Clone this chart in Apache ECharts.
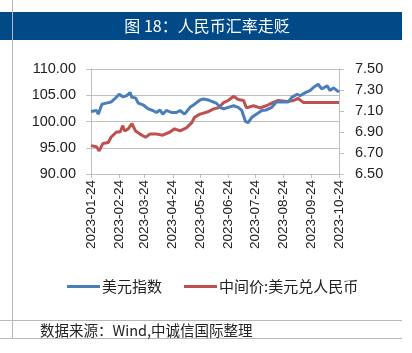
<!DOCTYPE html>
<html>
<head>
<meta charset="utf-8"/>
<title>人民币汇率走贬</title>
<script src="https://cdn.jsdelivr.net/npm/echarts@6/dist/echarts.min.js"></script>
<style>
html,body{margin:0;padding:0;background:#fff;}
#main{width:412px;height:353px;}
</style>
</head>
<body>
<div id="main"></div>
<script>
// 数据：美元指数（左轴）
var usdDates = ['2023-01-24','2023-01-30','2023-02-01','2023-02-05','2023-02-10','2023-02-15','2023-02-19','2023-02-24',
  '2023-02-28','2023-03-04','2023-03-08','2023-03-10','2023-03-14','2023-03-17','2023-03-23','2023-03-28',
  '2023-04-02','2023-04-06','2023-04-10','2023-04-13','2023-04-17','2023-04-23','2023-04-28','2023-05-02',
  '2023-05-07','2023-05-13','2023-05-18','2023-05-24','2023-05-28','2023-06-02','2023-06-08','2023-06-11',
  '2023-06-15','2023-06-19','2023-06-24','2023-06-30','2023-07-05','2023-07-09','2023-07-13','2023-07-16',
  '2023-07-20','2023-07-25','2023-07-31','2023-08-05','2023-08-11','2023-08-16','2023-08-23','2023-08-29',
  '2023-09-02','2023-09-08','2023-09-11','2023-09-17','2023-09-22','2023-09-26','2023-10-01','2023-10-05',
  '2023-10-11','2023-10-14','2023-10-18','2023-10-24'];
var usdIndex = [101.9,102.1,101.4,103.3,103.5,103.7,104.3,105.2,
  104.7,104.9,105.5,104.6,104.5,103.5,103.1,102.4,
  102.1,101.7,102.2,101.4,102.1,101.7,101.7,102.1,
  101.4,102.7,103.3,104.1,104.3,104.1,103.7,103.5,
  102.7,102.4,102.7,103.0,102.7,102.1,100.0,99.8,
  100.8,101.4,102.1,102.2,102.7,103.7,103.7,103.7,
  104.6,105.2,104.9,105.5,105.9,106.5,107.1,106.2,
  106.8,105.9,106.4,105.6];

// 数据：中间价:美元兑人民币（右轴）
var cnyDates = ['2023-01-24','2023-01-30','2023-02-02','2023-02-06','2023-02-12','2023-02-15','2023-02-21','2023-02-25',
  '2023-02-28','2023-03-02','2023-03-06','2023-03-10','2023-03-14','2023-03-19','2023-03-25','2023-03-30',
  '2023-04-06','2023-04-13','2023-04-21','2023-04-26','2023-05-02','2023-05-09','2023-05-15','2023-05-18',
  '2023-05-24','2023-06-01','2023-06-08','2023-06-13','2023-06-19','2023-06-24','2023-06-30','2023-07-05',
  '2023-07-11','2023-07-14','2023-07-22','2023-07-29','2023-08-05','2023-08-12','2023-08-18','2023-08-28',
  '2023-09-04','2023-09-09','2023-09-15','2023-09-22','2023-09-30','2023-10-24'];
var cnyMid = [6.77,6.76,6.72,6.79,6.80,6.85,6.90,6.90,
  6.96,6.91,6.93,6.98,6.91,6.88,6.85,6.88,
  6.88,6.87,6.90,6.93,6.91,6.94,6.99,7.04,
  7.07,7.09,7.12,7.13,7.18,7.20,7.24,7.21,
  7.20,7.13,7.15,7.13,7.15,7.18,7.20,7.19,
  7.20,7.22,7.18,7.18,7.18,7.18];

var startDate = '2023-01-24', endDate = '2023-10-24';

// 逐日类目
function buildDays(s, e) {
  var out = [];
  var d = new Date(s + 'T00:00:00Z'), end = new Date(e + 'T00:00:00Z');
  while (d <= end) {
    out.push(d.toISOString().slice(0, 10));
    d.setUTCDate(d.getUTCDate() + 1);
  }
  return out;
}
var days = buildDays(startDate, endDate);

function pairs(ds, vs) {
  var r = [];
  for (var i = 0; i < ds.length; i++) r.push([ds[i], vs[i]]);
  return r;
}
function isMonthTick(idx, val) { return val.slice(8) === '24'; }

var font = '"Noto Sans CJK SC", "Noto Sans", sans-serif';
var numFont = '"Liberation Sans", sans-serif';
var chart = echarts.init(document.getElementById('main'));
chart.setOption({
  animation: false,
  textStyle: {fontFamily: font},
  graphic: [
    {type: 'rect', shape: {x: 0, y: 12, width: 402, height: 28}, style: {fill: '#024a87'}, z: 0},
    {type: 'text', x: 207, y: 26, style: {text: '图 18：人民币汇率走贬', fill: '#fff', font: '16px ' + font, align: 'center', verticalAlign: 'middle'}, z: 2},
    {type: 'line', shape: {x1: 12.5, y1: 0, x2: 12.5, y2: 338}, style: {stroke: '#b8b8b8', lineWidth: 1}, z: 1},
    {type: 'line', shape: {x1: 0, y1: 320.5, x2: 402, y2: 320.5}, style: {stroke: '#b8b8b8', lineWidth: 1}},
    {type: 'line', shape: {x1: 0, y1: 338.5, x2: 402, y2: 338.5}, style: {stroke: '#b8b8b8', lineWidth: 1}},
    {type: 'text', x: 40, y: 330, style: {text: '数据来源：Wind,中诚信国际整理', fill: '#222', font: '14.5px ' + font, verticalAlign: 'middle'}}
  ],
  legend: {
    top: 274, left: 62,
    itemWidth: 33, itemHeight: 3, itemGap: 22,
    icon: 'rect',
    textStyle: {fontSize: 15, color: '#222', fontFamily: font, padding: [0, 0, 0, -3]},
    data: ['美元指数', '中间价:美元兑人民币']
  },
  grid: {left: 91, right: 73, top: 69, bottom: 179},
  xAxis: {
    type: 'category',
    data: days,
    boundaryGap: false,
    axisLine: {lineStyle: {color: '#bfbfbf'}},
    axisTick: {show: true, interval: isMonthTick, length: 4, lineStyle: {color: '#bfbfbf'}},
    axisLabel: {interval: isMonthTick, rotate: 90, fontSize: 13.5, color: '#222', margin: 6, fontFamily: numFont},
    splitLine: {show: false}
  },
  yAxis: [
    {
      type: 'value', min: 90, max: 110, interval: 5,
      axisLine: {show: true, lineStyle: {color: '#bfbfbf'}},
      axisTick: {show: true, length: 5, lineStyle: {color: '#bfbfbf'}},
      axisLabel: {formatter: function (v) { return v.toFixed(2); }, fontSize: 14.5, color: '#222', margin: 15, fontFamily: numFont},
      splitLine: {lineStyle: {color: '#bfbfbf'}}
    },
    {
      type: 'value', min: 6.5, max: 7.5, interval: 0.2,
      axisLine: {show: true, lineStyle: {color: '#bfbfbf'}},
      axisTick: {show: true, length: 5, lineStyle: {color: '#bfbfbf'}},
      axisLabel: {formatter: function (v) { return v.toFixed(2); }, fontSize: 14.5, color: '#222', margin: 16, fontFamily: numFont},
      splitLine: {show: false}
    }
  ],
  series: [
    {
      name: '美元指数', type: 'line', yAxisIndex: 0,
      data: pairs(usdDates, usdIndex),
      showSymbol: false, symbol: 'none',
      lineStyle: {color: '#4a7ebb', width: 3},
      itemStyle: {color: '#4a7ebb'}, z: 3
    },
    {
      name: '中间价:美元兑人民币', type: 'line', yAxisIndex: 1,
      data: pairs(cnyDates, cnyMid),
      showSymbol: false, symbol: 'none',
      lineStyle: {color: '#c0504d', width: 3},
      itemStyle: {color: '#c0504d'}, z: 2
    }
  ]
});
</script>
</body>
</html>
